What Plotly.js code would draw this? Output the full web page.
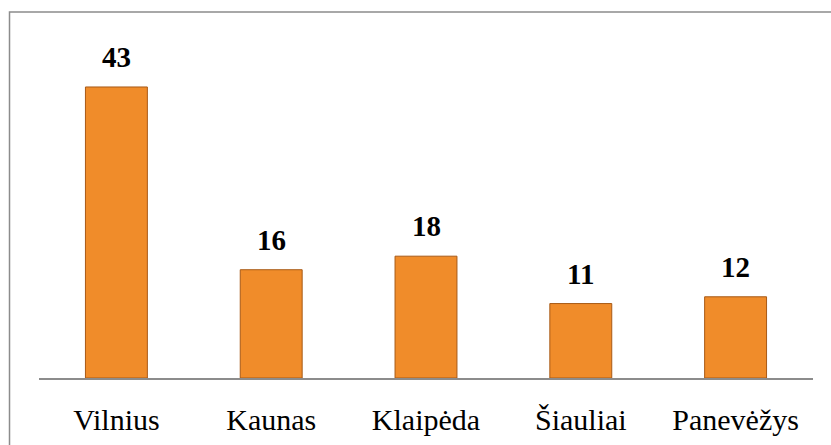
<!DOCTYPE html>
<html>
<head>
<meta charset="utf-8">
<script src="https://cdn.plot.ly/plotly-3.0.1.min.js"></script>
<style>html,body{margin:0;padding:0;background:#fff;}#chart{width:831px;height:445px;}</style>
</head>
<body>
<div id="chart"></div>
<script>
const cities = ["Vilnius", "Kaunas", "Klaipėda", "Šiauliai", "Panevėžys"];
const counts = [43, 16, 18, 11, 12];

const serif = "Liberation Serif";

const trace = {
  type: "bar",
  x: cities,
  y: counts,
  marker: {color: "#F08C2A", line: {color: "#A85A16", width: 1}},
  hoverinfo: "x+y"
};

const labels = cities.map((c, i) => ({
  xref: "x", yref: "y", x: c, y: counts[i],
  text: "<b>" + counts[i] + "</b>",
  showarrow: false, yanchor: "bottom", yshift: 12,
  font: {family: serif, size: 29, color: "#000"}
}));

const layout = {
  width: 831,
  height: 445,
  margin: {l: 38.5, r: 18, t: 30, b: 67},
  paper_bgcolor: "#fff",
  plot_bgcolor: "#fff",
  bargap: 0.6,
  showlegend: false,
  xaxis: {
    showline: true, linecolor: "#8c8c8c", linewidth: 1.5,
    ticks: "", showgrid: false, zeroline: false,
    ticklabelstandoff: 14,
    tickfont: {family: serif, size: 30, color: "#000"}
  },
  yaxis: {
    range: [0, 51.42], visible: false, showgrid: false, zeroline: false
  },
  annotations: labels,
  shapes: [{
    type: "rect", xref: "paper", yref: "paper",
    x0: -0.0381, x1: 1.04, y0: -0.25, y1: 1.0517,
    line: {color: "#8c8c8c", width: 1.5}, fillcolor: "rgba(0,0,0,0)", layer: "below"
  }]
};

Plotly.newPlot("chart", [trace], layout, {displayModeBar: false, staticPlot: true});
</script>
</body>
</html>
